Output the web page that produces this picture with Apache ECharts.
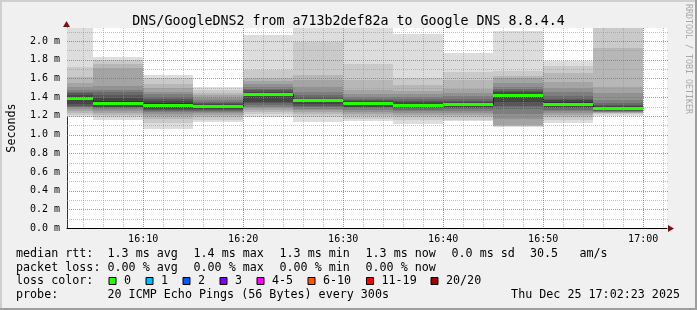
<!DOCTYPE html>
<html><head><meta charset="utf-8">
<script src="https://cdn.jsdelivr.net/npm/echarts@6/dist/echarts.min.js"></script>
<style>html,body{margin:0;padding:0;background:#f0f0f0;overflow:hidden}#c{width:697px;height:310px}</style>
</head><body><div id="c"></div>
<script>
// ---- data (time = seconds after 16:00:00) ----
const titleText = 'DNS/GoogleDNS2 from a713b2def82a to Google DNS 8.8.4.4';
const xStart = 143;   // 16:02:23
const xEnd = 3743;    // 17:02:23
const stepSeconds = 300;
const barStart = [0, 300, 600, 900, 1200, 1500, 1800, 2100, 2400, 2700, 3000, 3300];
const medians = [1.383, 1.337, 1.315, 1.295, 1.430, 1.362, 1.329, 1.315, 1.319, 1.415, 1.326, 1.280];
// 20 sorted ping round-trip times (ms) per 5-minute step
const pings = [
  [1.19,1.21,1.23,1.25,1.27,1.29,1.30,1.31,1.33,1.37,1.395,1.42,1.44,1.46,1.48,1.51,1.55,1.62,1.72,2.20],
  [1.16,1.19,1.21,1.23,1.25,1.27,1.28,1.29,1.30,1.315,1.36,1.39,1.42,1.45,1.48,1.52,1.71,1.76,1.80,1.835],
  [1.06,1.12,1.17,1.20,1.22,1.24,1.25,1.265,1.275,1.29,1.34,1.36,1.38,1.40,1.43,1.46,1.50,1.54,1.61,1.64],
  [1.13,1.16,1.19,1.21,1.23,1.24,1.25,1.26,1.27,1.28,1.31,1.33,1.34,1.35,1.37,1.39,1.42,1.44,1.48,1.51],
  [1.19,1.22,1.24,1.26,1.28,1.30,1.32,1.34,1.35,1.415,1.445,1.46,1.475,1.49,1.51,1.54,1.57,1.61,1.69,2.06],
  [1.13,1.19,1.22,1.24,1.26,1.27,1.29,1.31,1.33,1.35,1.375,1.385,1.40,1.42,1.46,1.51,1.58,1.64,1.99,2.20],
  [1.15,1.17,1.20,1.22,1.24,1.26,1.28,1.29,1.30,1.315,1.345,1.355,1.365,1.38,1.40,1.43,1.48,1.58,1.75,2.20],
  [1.11,1.16,1.19,1.21,1.23,1.25,1.26,1.28,1.29,1.30,1.33,1.345,1.36,1.38,1.40,1.43,1.47,1.53,1.60,2.08],
  [1.14,1.16,1.19,1.21,1.23,1.25,1.27,1.28,1.29,1.305,1.335,1.345,1.36,1.38,1.41,1.44,1.49,1.58,1.67,1.875],
  [1.085,1.09,1.095,1.10,1.17,1.22,1.27,1.31,1.35,1.395,1.435,1.45,1.47,1.49,1.51,1.55,1.60,1.63,1.68,2.11],
  [1.12,1.16,1.19,1.21,1.23,1.25,1.265,1.28,1.295,1.31,1.345,1.37,1.385,1.41,1.45,1.50,1.56,1.66,1.73,1.79],
  [1.20,1.22,1.23,1.235,1.24,1.245,1.25,1.255,1.26,1.27,1.29,1.305,1.32,1.34,1.37,1.44,1.51,1.93,2.20,2.30]
];
const yMax = 2.14;
const yMajorTicks = [0.2, 0.4, 0.6, 0.8, 1.0, 1.2, 1.4, 1.6, 1.8, 2.0];
const yMinorTicks = [0.1, 0.3, 0.5, 0.7, 0.9, 1.1, 1.3, 1.5, 1.7, 1.9, 2.1];
const xMajorTicks = [600, 1200, 1800, 2400, 3000, 3600];
const xMinorTicks = [240, 360, 480, 720, 840, 960, 1080, 1320, 1440, 1560, 1680, 1920, 2040, 2160, 2280, 2520, 2640, 2760, 2880, 3120, 3240, 3360, 3480, 3720];
const rowMedian = ['median rtt:', '1.3 ms avg', '1.4 ms max', '1.3 ms min', '1.3 ms now', '0.0 ms sd', '30.5', 'am/s'];
const rowLoss = ['packet loss:', '0.00 % avg', '0.00 % max', '0.00 % min', '0.00 % now'];
const lossLabels = ['0', '1', '2', '3', '4-5', '6-10', '11-19', '20/20'];
const lossColors = ['#26ff00', '#00b8ff', '#0059ff', '#7e00ff', '#ff00ff', '#ff5500', '#ff0000', '#a10000'];
const probeRow = ['probe:', '20 ICMP Echo Pings (56 Bytes) every 300s', 'Thu Dec 25 17:02:23 2025'];
const watermark = 'RRDTOOL / TOBI OETIKER';

// ---- styles ----
const MONO = '"DejaVu Sans Mono", "Liberation Mono", monospace';
const shades = ['#dddddd','#cacaca','#b7b7b7','#a4a4a4','#919191','#7e7e7e','#6b6b6b','#585858','#454545','#323232'];
const colX = [16, 107.5, 193.5, 279.5, 365.5, 451.5, 530, 579.5];
const rowY = [254, 267.5, 281, 294.5];
const boxX = [108.5, 145.5, 182.5, 219.5, 256.5, 307.5, 366, 430.5];

function fmtTime(v) {
  const h = 16 + Math.floor(v / 3600);
  const m = Math.floor((v % 3600) / 60);
  return h + ':' + (m < 10 ? '0' : '') + m;
}

function renderSmoke(params, api) {
  const i = params.dataIndex;
  const p = pings[i];
  const x0 = Math.round(api.coord([barStart[i], 0])[0]);
  const x1 = Math.round(api.coord([barStart[i] + stepSeconds, 0])[0]);
  const children = [];
  for (let k = 0; k < 10; k++) {
    const yT = Math.round(api.coord([0, p[19 - k]])[1]);
    const yB = Math.round(api.coord([0, p[k]])[1]);
    children.push({type: 'rect', shape: {x: x0, y: yT, width: x1 - x0, height: Math.max(1, yB - yT)}, style: {fill: shades[k]}});
  }
  return {type: 'group', children};
}

function renderMedian(params, api) {
  const i = params.dataIndex;
  const x0 = Math.round(api.coord([barStart[i], 0])[0]);
  const x1 = Math.round(api.coord([barStart[i] + stepSeconds, 0])[0]);
  const y = api.coord([0, medians[i]])[1];
  const children = [];
  if (i > 0) {
    const yp = api.coord([0, medians[i - 1]])[1];
    children.push({type: 'line', shape: {x1: x0 + 0.5, y1: Math.round(yp), x2: x0 + 0.5, y2: Math.round(y)}, style: {stroke: '#202020', lineWidth: 1}});
  }
  children.push({type: 'rect', shape: {x: x0, y: Math.round(y - 1.5), width: x1 - x0, height: 3}, style: {fill: lossColors[0]}});
  return {type: 'group', children};
}

function makeGrid(dir, color) {
  return function (params, api) {
    const cs = params.coordSys;
    const v = api.value(0);
    if (dir === 'v') {
      const x = Math.round(api.coord([v, 0])[0]) + 0.5;
      return {type: 'line', shape: {x1: x, y1: cs.y, x2: x, y2: cs.y + cs.height}, style: {stroke: color, lineWidth: 1, lineDash: [1, 1]}};
    }
    const y = Math.round(api.coord([xStart, v])[1]) + 0.5;
    return {type: 'line', shape: {x1: cs.x, y1: y, x2: cs.x + cs.width + 2, y2: y}, style: {stroke: color, lineWidth: 1, lineDash: [1, 1]}};
  };
}

function renderArrows(params, api) {
  const i = params.dataIndex;
  if (i === 0) {
    const c = api.coord([xEnd, 0]);
    const x = Math.round(c[0]) + 1, y = Math.round(c[1]) + 0.5;
    return {type: 'polygon', shape: {points: [[x, y - 3.5], [x + 6, y], [x, y + 3.5]]}, style: {fill: '#7f1010'}};
  }
  const c = api.coord([xStart, yMax]);
  const x = Math.round(c[0]) - 0.5, y = Math.round(c[1]) - 1;
  return {type: 'polygon', shape: {points: [[x - 3.5, y], [x, y - 6], [x + 3.5, y]]}, style: {fill: '#7f1010'}};
}

const graphics = [
  {type: 'rect', shape: {x: 0, y: 0, width: 697, height: 2}, style: {fill: '#cfcfcf'}, silent: true},
  {type: 'rect', shape: {x: 0, y: 0, width: 2, height: 310}, style: {fill: '#cfcfcf'}, silent: true},
  {type: 'rect', shape: {x: 695, y: 0, width: 2, height: 310}, style: {fill: '#9e9e9e'}, silent: true},
  {type: 'rect', shape: {x: 0, y: 308, width: 697, height: 2}, style: {fill: '#9e9e9e'}, silent: true},
  {type: 'text', x: 688, y: 59, rotation: -Math.PI / 2, style: {text: watermark, font: '8.3px ' + MONO, fill: '#a8a8a8', align: 'center', verticalAlign: 'middle'}}
];
const legendFont = '11.7px ' + MONO;
rowMedian.forEach((t, i) => graphics.push({type: 'text', x: colX[i], y: rowY[0], style: {text: t, font: legendFont, fill: '#000', verticalAlign: 'middle'}}));
rowLoss.forEach((t, i) => graphics.push({type: 'text', x: colX[i], y: rowY[1], style: {text: t, font: legendFont, fill: '#000', verticalAlign: 'middle'}}));
graphics.push({type: 'text', x: colX[0], y: rowY[2], style: {text: 'loss color:', font: legendFont, fill: '#000', verticalAlign: 'middle'}});
lossLabels.forEach((t, i) => {
  graphics.push({type: 'rect', shape: {x: boxX[i] + 0.5, y: rowY[2] - 3.5, width: 7, height: 7}, style: {fill: lossColors[i], stroke: '#000', lineWidth: 1}});
  graphics.push({type: 'text', x: boxX[i] + 15.5, y: rowY[2], style: {text: t, font: legendFont, fill: '#000', verticalAlign: 'middle'}});
});
graphics.push({type: 'text', x: colX[0], y: rowY[3], style: {text: probeRow[0], font: legendFont, fill: '#000', verticalAlign: 'middle'}});
graphics.push({type: 'text', x: colX[1], y: rowY[3], style: {text: probeRow[1], font: legendFont, fill: '#000', verticalAlign: 'middle'}});
graphics.push({type: 'text', x: 680, y: rowY[3], style: {text: probeRow[2], font: legendFont, fill: '#000', align: 'right', verticalAlign: 'middle'}});

const chart = echarts.init(document.getElementById('c'), null, {renderer: 'canvas'});
chart.setOption({
  backgroundColor: '#f0f0f0',
  animation: false,
  title: {text: titleText, left: 'center', top: 10, textStyle: {fontFamily: MONO, fontSize: 13.3, fontWeight: 'normal', color: '#000'}},
  grid: {left: 67, right: 30, top: 28, bottom: 82, outerBoundsMode: 'none', containLabel: false, show: true, backgroundColor: '#ffffff', borderWidth: 0},
  xAxis: {
    type: 'value', min: xStart, max: xEnd,
    axisLine: {show: true, lineStyle: {color: '#000', width: 1}},
    axisTick: {show: false}, splitLine: {show: false},
    axisLabel: {customValues: xMajorTicks, formatter: fmtTime, margin: 6, fontFamily: MONO, fontSize: 10, color: '#000'}
  },
  yAxis: {
    type: 'value', min: 0, max: yMax, interval: 0.2,
    name: 'Seconds', nameLocation: 'middle', nameGap: 49, nameRotate: 90,
    nameTextStyle: {fontFamily: MONO, fontSize: 11.7, color: '#000'},
    axisLine: {show: true, lineStyle: {color: '#333', width: 1}},
    axisTick: {show: false}, splitLine: {show: false},
    axisLabel: {showMaxLabel: false, margin: 7, formatter: v => v.toFixed(1) + ' m', fontFamily: MONO, fontSize: 10, color: '#000'}
  },
  series: [
    {type: 'custom', name: 'smoke', clip: true, renderItem: renderSmoke, data: barStart.map((s, i) => [s, medians[i]]), z: 2},
    {type: 'custom', name: 'median', clip: true, renderItem: renderMedian, data: barStart.map((s, i) => [s, medians[i]]), z: 3},
    {type: 'custom', name: 'minorX', renderItem: makeGrid('v', 'rgba(150,150,150,0.6)'), data: xMinorTicks.map(v => [v, 0]), z: 4, silent: true},
    {type: 'custom', name: 'minorY', renderItem: makeGrid('h', 'rgba(150,150,150,0.6)'), data: yMinorTicks.map(v => [v, 0]), z: 4, silent: true},
    {type: 'custom', name: 'majorX', renderItem: makeGrid('v', 'rgba(235,70,70,0.75)'), data: xMajorTicks.map(v => [v, 0]), z: 5, silent: true},
    {type: 'custom', name: 'majorY', renderItem: makeGrid('h', 'rgba(235,70,70,0.75)'), data: yMajorTicks.map(v => [v, 0]), z: 5, silent: true},
    {type: 'custom', name: 'arrows', clip: false, renderItem: renderArrows, data: [[xEnd, 0], [xStart, yMax]], z: 6, silent: true}
  ],
  graphic: graphics
});
</script>
</body></html>
